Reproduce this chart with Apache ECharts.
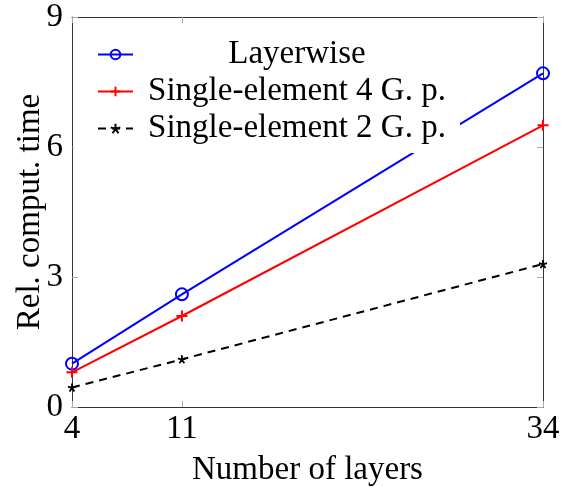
<!DOCTYPE html>
<html>
<head>
<meta charset="utf-8">
<script src="https://cdn.jsdelivr.net/npm/echarts@6/dist/echarts.min.js"></script>
<style>html,body{margin:0;padding:0;background:#fff}#c{width:562px;height:487px}</style>
</head>
<body>
<div id="c"></div>
<script>
const layers = [4, 11, 34];
const layerwise = [1.0, 2.6, 7.7];
const single4 = [0.8, 2.1, 6.5];
const single2 = [0.45, 1.1, 3.3];
const yTicks = [0, 3, 6, 9];
const names = ['Layerwise', 'Single-element 4 G. p.', 'Single-element 2 G. p.'];

const FONT = 'Liberation Serif';
const FS = 33;
const pts = (ys) => layers.map((x, i) => [x, ys[i]]);
const plusPath = 'path://M0,5L10,5M5,0L5,10';
const starPath = 'path://M5,5L5,0M5,5L9.76,3.45M5,5L7.94,9.05M5,5L2.06,9.05M5,5L0.24,3.45';

const chart = echarts.init(document.getElementById('c'), null, {renderer: 'canvas'});
const mk = (c, len) => ({show: true, inside: true, length: len || 6, lineStyle: {color: c, width: 1}});
chart.setOption({
  animation: false,
  backgroundColor: '#fff',
  textStyle: {fontFamily: FONT, color: '#000'},
  grid: {left: 72, right: 19, top: 17, bottom: 80, containLabel: false, outerBoundsMode: 'none'},
  legend: {
    orient: 'vertical',
    left: 74, top: 26,
    padding: [12, 10, 8, 23],
    itemGap: 4,
    itemWidth: 35, itemHeight: 12,
    backgroundColor: '#fff',
    data: names,
    formatter: (n) => '{t|' + n + '}',
    textStyle: {
      fontFamily: FONT, fontSize: FS, color: '#000',
      rich: {t: {fontFamily: FONT, fontSize: FS, color: '#000', width: 306, align: 'center', padding: [0, 0, 0, 6], lineHeight: 34}}
    }
  },
  xAxis: [{
    type: 'value', min: 4, max: 34,
    name: 'Number of layers', nameLocation: 'middle', nameGap: 47,
    nameTextStyle: {fontFamily: FONT, fontSize: FS, color: '#000'},
    axisLine: {show: true, lineStyle: {color: '#333', width: 1}},
    axisTick: Object.assign({customValues: layers}, mk('#aaaaaa')),
    axisLabel: {customValues: layers, fontFamily: FONT, fontSize: FS, color: '#000', margin: 6},
    splitLine: {show: false}
  }, {
    type: 'value', min: 4, max: 34, position: 'top',
    axisLine: {show: true, onZero: false, lineStyle: {color: '#333', width: 1}},
    axisTick: Object.assign({customValues: layers}, mk('#aaaaaa')),
    axisLabel: {show: false},
    splitLine: {show: false}
  }],
  yAxis: [{
    type: 'value', min: 0, max: 9, interval: 3,
    name: 'Rel. comput. time', nameLocation: 'middle', nameGap: 25, nameMoveOverlap: false,
    nameTextStyle: {fontFamily: FONT, fontSize: FS, color: '#000'},
    axisLine: {show: true, lineStyle: {color: '#333', width: 1}},
    axisTick: mk('#aaaaaa'),
    axisLabel: {customValues: yTicks, fontFamily: FONT, fontSize: FS, color: '#000', margin: 9},
    splitLine: {show: false}
  }, {
    type: 'value', min: 0, max: 9, interval: 3, position: 'right',
    axisLine: {show: true, onZero: false, lineStyle: {color: '#333', width: 1}},
    axisTick: mk('#aaaaaa'),
    axisLabel: {show: false},
    splitLine: {show: false}
  }],
  series: [{
    name: names[0], type: 'line', data: pts(layerwise),
    symbol: 'circle', symbolSize: 12,
    lineStyle: {color: '#0000ff', width: 2},
    itemStyle: {color: 'rgba(0,0,0,0)', borderColor: '#0000ff', borderWidth: 2},
    z: 3
  }, {
    name: names[1], type: 'line', data: pts(single4),
    symbol: plusPath, symbolSize: 11,
    lineStyle: {color: '#ff0000', width: 2},
    itemStyle: {color: '#ff0000', borderColor: '#ff0000', borderWidth: 2},
    z: 3
  }, {
    name: names[2], type: 'line', data: pts(single2),
    symbol: starPath, symbolSize: 8,
    lineStyle: {color: '#000', width: 2, type: [8, 6]},
    itemStyle: {color: '#000', borderColor: '#000', borderWidth: 1.8},
    z: 3
  }]
});
</script>
</body>
</html>
